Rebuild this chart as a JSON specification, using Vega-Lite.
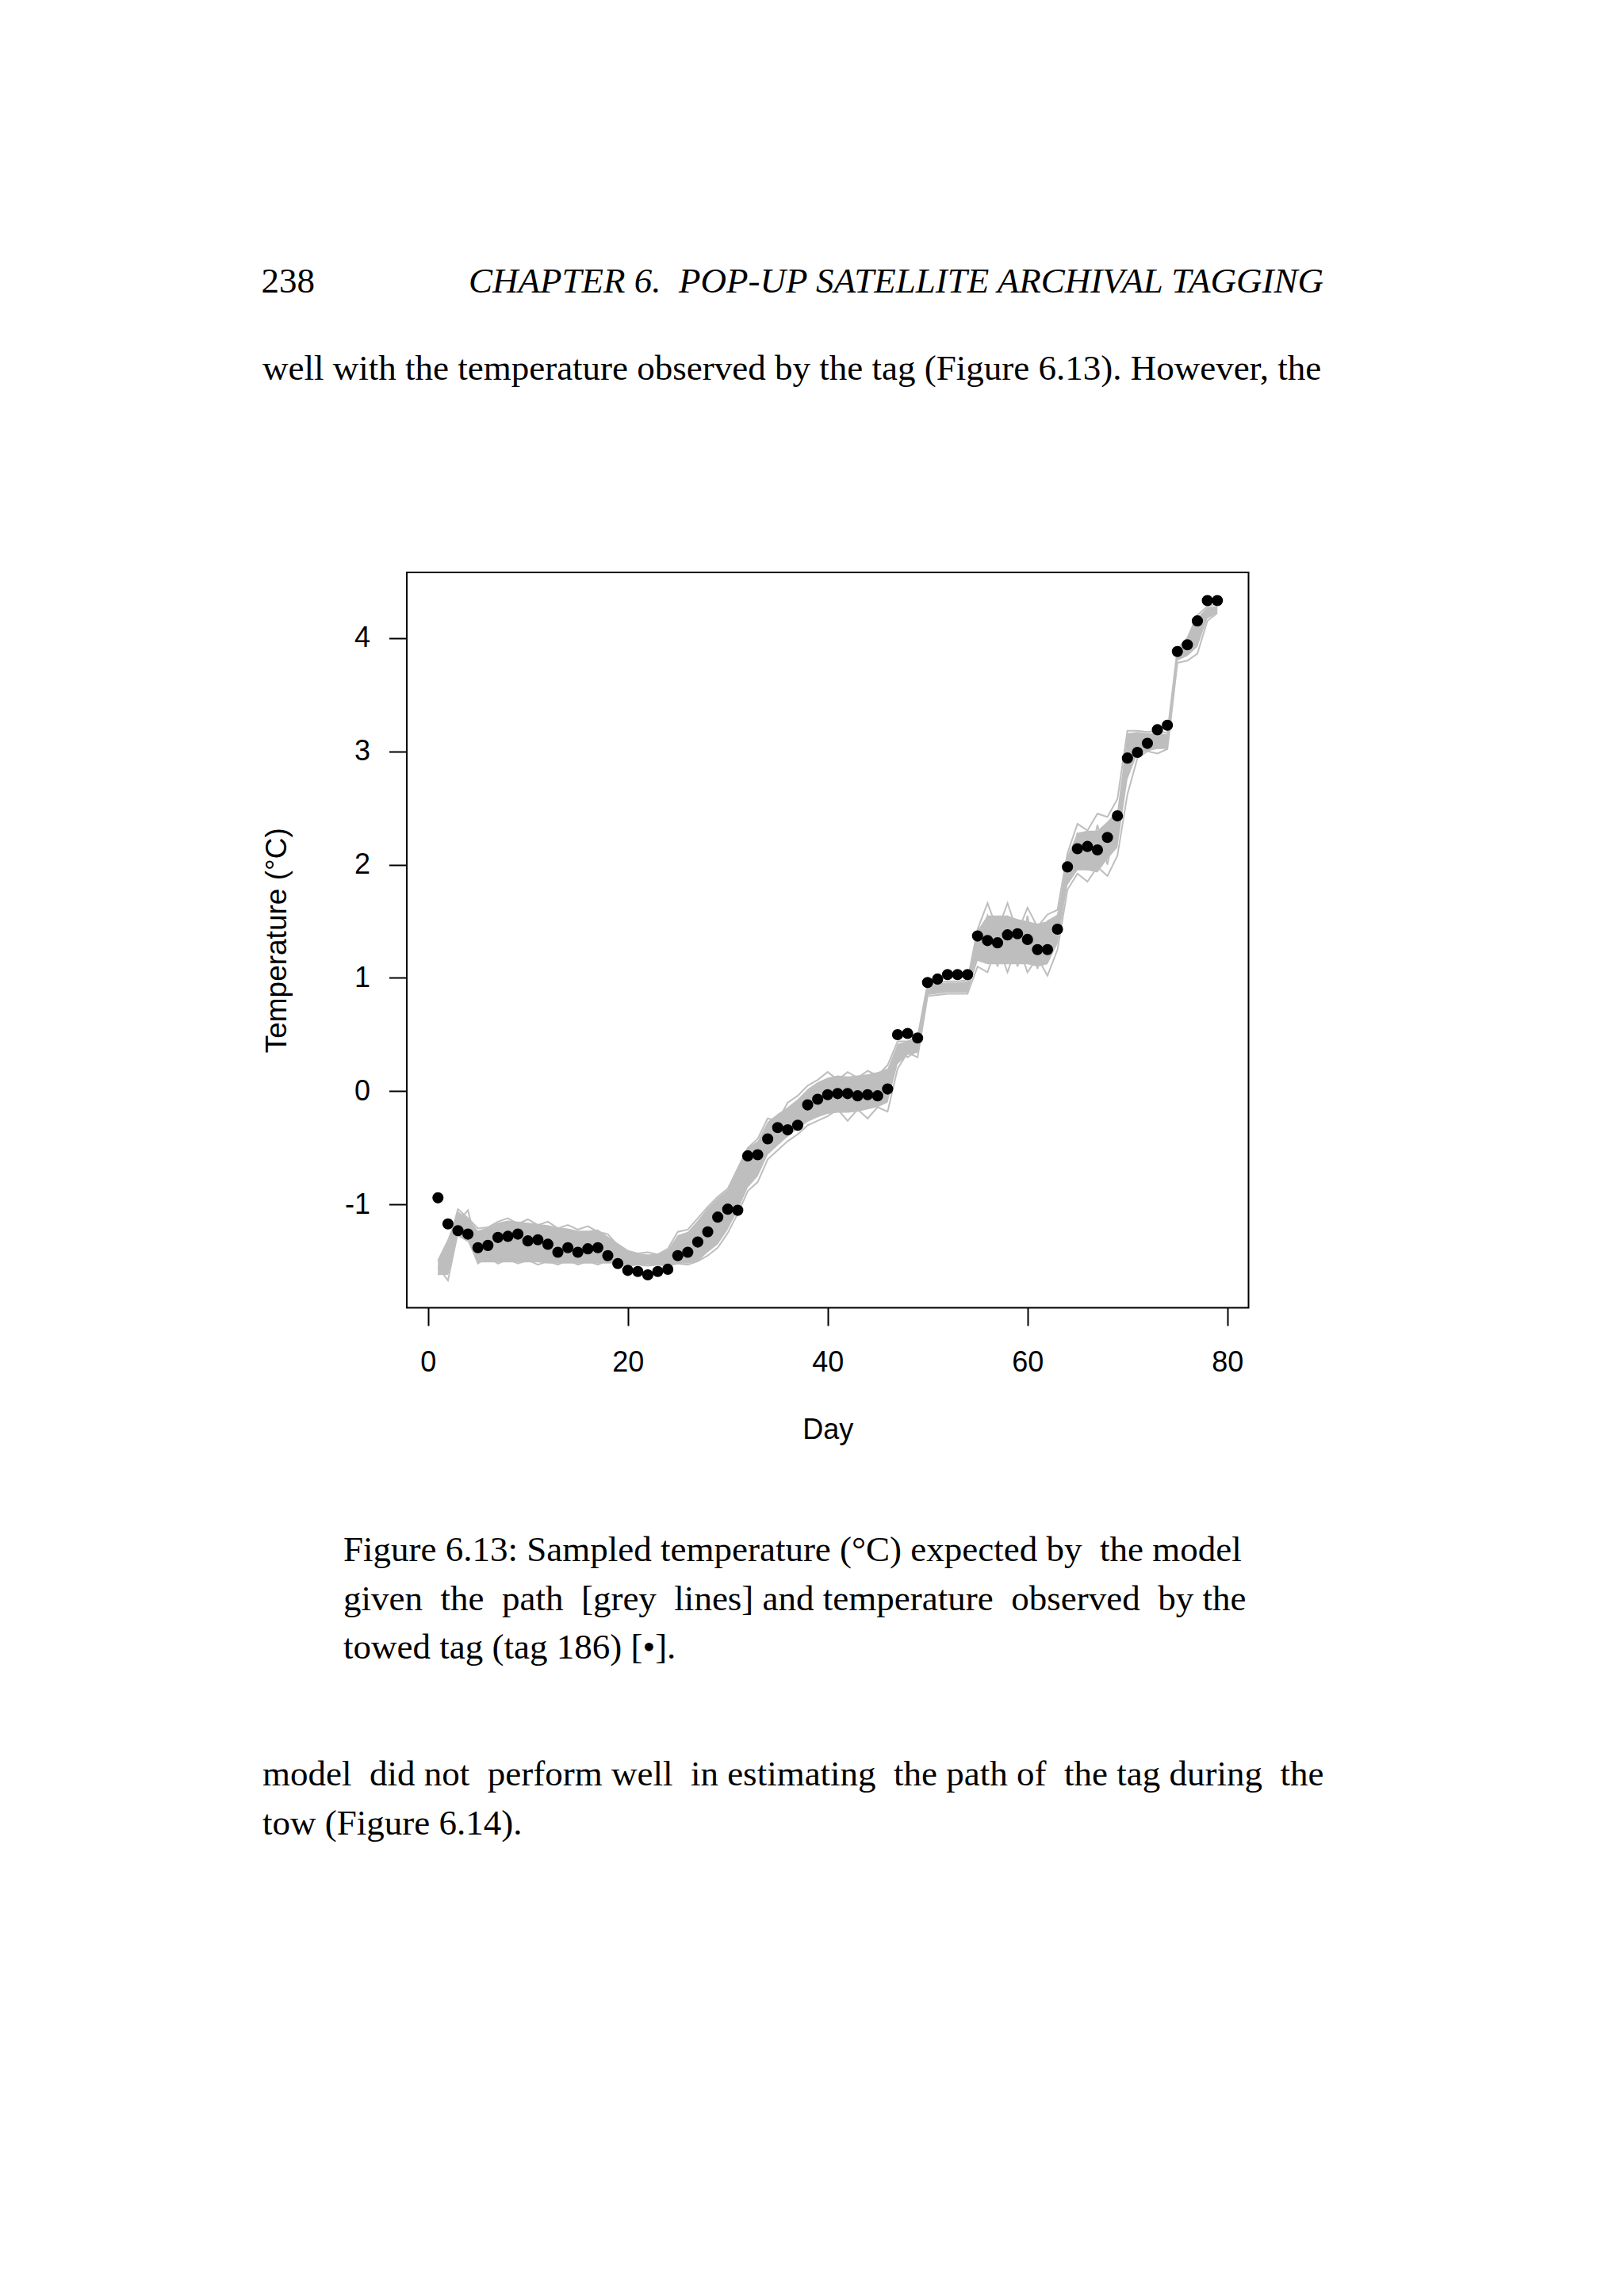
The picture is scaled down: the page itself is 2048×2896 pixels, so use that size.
{
"$schema": "https://vega.github.io/schema/vega-lite/v6.json",
"background": "white",
"padding": {"left": 329, "top": 333, "right": 0, "bottom": 0},
"config": {
  "view": {"stroke": null},
  "concat": {"spacing": 0},
  "title": {"font": "Liberation Serif", "fontSize": 45, "fontWeight": "normal", "color": "black", "baseline": "alphabetic", "offset": 0, "lineHeight": 61.5}
},
"title": {"text": "238", "anchor": "start", "frame": "bounds", "offset": -45, "fontStyle": "normal"},
"spacing": 0,
"vconcat": [
  {"width": 1156, "height": 61, "data": {"values": []}, "mark": "point", "encoding": {}, "title": {"text": "CHAPTER 6.\u00a0 POP-UP SATELLITE ARCHIVAL TAGGING", "anchor": "end", "fontStyle": "italic", "frame": "group"}},
  {"width": 1000, "height": 229, "data": {"values": []}, "mark": "point", "encoding": {}, "title": {"text": "well with the temperature observed by the tag (Figure 6.13). However, the", "anchor": "start", "frame": "group", "dx": -182}},
  {
    "width": 1061.5, "height": 927.5,
    "view": {"stroke": "black", "strokeWidth": 2},
    "title": {"text": ["Figure 6.13: Sampled temperature (°C) expected by\u00a0 the model", "given\u00a0 the\u00a0 path\u00a0 [grey\u00a0 lines] and temperature\u00a0 observed\u00a0 by the", "towed tag (tag 186) [•]."], "orient": "bottom", "anchor": "start", "frame": "group", "dx": -80, "offset": 112},
    "data": {"values": [
{"day":1,"obs":-0.94,"lo":-1.62,"hi":-1.48,"a":-1.50,"b":-1.55,"c":-1.62,"d":-1.58},
{"day":2,"obs":-1.17,"lo":-1.62,"hi":-1.30,"a":-1.36,"b":-1.67,"c":-1.52,"d":-1.60},
{"day":3,"obs":-1.23,"lo":-1.28,"hi":-1.06,"a":-1.04,"b":-1.24,"c":-1.15,"d":-1.08},
{"day":4,"obs":-1.26,"lo":-1.33,"hi":-1.12,"a":-1.12,"b":-1.30,"c":-1.05,"d":-1.20},
{"day":5,"obs":-1.38,"lo":-1.51,"hi":-1.23,"a":-1.21,"b":-1.52,"c":-1.40,"d":-1.46},
{"day":6,"obs":-1.36,"lo":-1.51,"hi":-1.20,"a":-1.20,"b":-1.46,"c":-1.30,"d":-1.38},
{"day":7,"obs":-1.29,"lo":-1.51,"hi":-1.16,"a":-1.15,"b":-1.52,"c":-1.35,"d":-1.26},
{"day":8,"obs":-1.28,"lo":-1.51,"hi":-1.14,"a":-1.12,"b":-1.48,"c":-1.25,"d":-1.32},
{"day":9,"obs":-1.26,"lo":-1.51,"hi":-1.15,"a":-1.17,"b":-1.52,"c":-1.32,"d":-1.22},
{"day":10,"obs":-1.32,"lo":-1.51,"hi":-1.16,"a":-1.13,"b":-1.49,"c":-1.28,"d":-1.35},
{"day":11,"obs":-1.31,"lo":-1.51,"hi":-1.17,"a":-1.18,"b":-1.53,"c":-1.35,"d":-1.25},
{"day":12,"obs":-1.35,"lo":-1.52,"hi":-1.18,"a":-1.15,"b":-1.50,"c":-1.30,"d":-1.38},
{"day":13,"obs":-1.42,"lo":-1.52,"hi":-1.20,"a":-1.21,"b":-1.53,"c":-1.38,"d":-1.28},
{"day":14,"obs":-1.38,"lo":-1.52,"hi":-1.21,"a":-1.18,"b":-1.49,"c":-1.33,"d":-1.42},
{"day":15,"obs":-1.42,"lo":-1.52,"hi":-1.23,"a":-1.22,"b":-1.53,"c":-1.38,"d":-1.30},
{"day":16,"obs":-1.39,"lo":-1.52,"hi":-1.23,"a":-1.19,"b":-1.50,"c":-1.35,"d":-1.42},
{"day":17,"obs":-1.38,"lo":-1.52,"hi":-1.22,"a":-1.24,"b":-1.53,"c":-1.40,"d":-1.30},
{"day":18,"obs":-1.45,"lo":-1.52,"hi":-1.28,"a":-1.26,"b":-1.49,"c":-1.36,"d":-1.45},
{"day":19,"obs":-1.52,"lo":-1.52,"hi":-1.34,"a":-1.36,"b":-1.53,"c":-1.44,"d":-1.38},
{"day":20,"obs":-1.58,"lo":-1.53,"hi":-1.40,"a":-1.41,"b":-1.54,"c":-1.47,"d":-1.50},
{"day":21,"obs":-1.59,"lo":-1.53,"hi":-1.43,"a":-1.43,"b":-1.53,"c":-1.49,"d":-1.46},
{"day":22,"obs":-1.62,"lo":-1.53,"hi":-1.44,"a":-1.42,"b":-1.54,"c":-1.48,"d":-1.51},
{"day":23,"obs":-1.59,"lo":-1.53,"hi":-1.43,"a":-1.44,"b":-1.53,"c":-1.49,"d":-1.46},
{"day":24,"obs":-1.57,"lo":-1.53,"hi":-1.40,"a":-1.39,"b":-1.54,"c":-1.47,"d":-1.50},
{"day":25,"obs":-1.45,"lo":-1.52,"hi":-1.27,"a":-1.24,"b":-1.52,"c":-1.38,"d":-1.45},
{"day":26,"obs":-1.42,"lo":-1.52,"hi":-1.24,"a":-1.22,"b":-1.53,"c":-1.35,"d":-1.28},
{"day":27,"obs":-1.33,"lo":-1.50,"hi":-1.14,"a":-1.12,"b":-1.50,"c":-1.28,"d":-1.38},
{"day":28,"obs":-1.24,"lo":-1.42,"hi":-1.03,"a":-1.02,"b":-1.45,"c":-1.18,"d":-1.25},
{"day":29,"obs":-1.11,"lo":-1.35,"hi":-0.94,"a":-0.93,"b":-1.38,"c":-1.08,"d":-1.20},
{"day":30,"obs":-1.04,"lo":-1.22,"hi":-0.87,"a":-0.86,"b":-1.25,"c":-0.98,"d":-1.02},
{"day":31,"obs":-1.05,"lo":-1.05,"hi":-0.68,"a":-0.68,"b":-1.08,"c":-0.88,"d":-0.95},
{"day":32,"obs":-0.57,"lo":-0.85,"hi":-0.50,"a":-0.50,"b":-0.88,"c":-0.68,"d":-0.80},
{"day":33,"obs":-0.56,"lo":-0.75,"hi":-0.44,"a":-0.42,"b":-0.80,"c":-0.55,"d":-0.62},
{"day":34,"obs":-0.42,"lo":-0.56,"hi":-0.27,"a":-0.24,"b":-0.60,"c":-0.42,"d":-0.50},
{"day":35,"obs":-0.32,"lo":-0.48,"hi":-0.20,"a":-0.26,"b":-0.52,"c":-0.36,"d":-0.30},
{"day":36,"obs":-0.34,"lo":-0.40,"hi":-0.14,"a":-0.10,"b":-0.44,"c":-0.28,"d":-0.35},
{"day":37,"obs":-0.30,"lo":-0.33,"hi":-0.07,"a":-0.04,"b":-0.38,"c":-0.20,"d":-0.15},
{"day":38,"obs":-0.12,"lo":-0.27,"hi":0.02,"a":0.05,"b":-0.30,"c":-0.10,"d":-0.20},
{"day":39,"obs":-0.07,"lo":-0.23,"hi":0.08,"a":0.10,"b":-0.26,"c":-0.06,"d":0.02},
{"day":40,"obs":-0.03,"lo":-0.20,"hi":0.12,"a":0.17,"b":-0.22,"c":0.02,"d":-0.12},
{"day":41,"obs":-0.02,"lo":-0.19,"hi":0.14,"a":0.10,"b":-0.16,"c":-0.04,"d":0.08},
{"day":42,"obs":-0.02,"lo":-0.19,"hi":0.13,"a":0.17,"b":-0.26,"c":0.04,"d":-0.10},
{"day":43,"obs":-0.04,"lo":-0.18,"hi":0.14,"a":0.12,"b":-0.16,"c":-0.02,"d":0.10},
{"day":44,"obs":-0.03,"lo":-0.16,"hi":0.15,"a":0.18,"b":-0.24,"c":0.02,"d":-0.08},
{"day":45,"obs":-0.04,"lo":-0.14,"hi":0.17,"a":0.14,"b":-0.14,"c":0.06,"d":0.12},
{"day":46,"obs":0.02,"lo":-0.10,"hi":0.20,"a":0.23,"b":-0.18,"c":0.04,"d":-0.05},
{"day":47,"obs":0.50,"lo":0.24,"hi":0.42,"a":0.44,"b":0.20,"c":0.30,"d":0.38},
{"day":48,"obs":0.51,"lo":0.32,"hi":0.44,"a":0.44,"b":0.34,"c":0.40,"d":0.30},
{"day":49,"obs":0.47,"lo":0.34,"hi":0.46,"a":0.48,"b":0.30,"c":0.42,"d":0.36},
{"day":50,"obs":0.96,"lo":0.85,"hi":0.94,"a":0.95,"b":0.84,"c":0.90,"d":0.88},
{"day":51,"obs":0.99,"lo":0.86,"hi":0.95,"a":0.96,"b":0.85,"c":0.92,"d":0.94},
{"day":52,"obs":1.03,"lo":0.87,"hi":0.96,"a":0.97,"b":0.86,"c":0.92,"d":0.90},
{"day":53,"obs":1.03,"lo":0.87,"hi":0.96,"a":0.97,"b":0.86,"c":0.93,"d":0.95},
{"day":54,"obs":1.03,"lo":0.87,"hi":0.97,"a":0.98,"b":0.86,"c":0.94,"d":0.90},
{"day":55,"obs":1.37,"lo":1.15,"hi":1.42,"a":1.43,"b":1.10,"c":1.30,"d":1.20},
{"day":56,"obs":1.33,"lo":1.12,"hi":1.55,"a":1.66,"b":1.05,"c":1.55,"d":1.45},
{"day":57,"obs":1.31,"lo":1.12,"hi":1.55,"a":1.42,"b":1.30,"c":1.20,"d":1.10},
{"day":58,"obs":1.38,"lo":1.12,"hi":1.55,"a":1.66,"b":1.05,"c":1.55,"d":1.50},
{"day":59,"obs":1.39,"lo":1.12,"hi":1.52,"a":1.40,"b":1.30,"c":1.18,"d":1.10},
{"day":60,"obs":1.34,"lo":1.12,"hi":1.50,"a":1.62,"b":1.05,"c":1.45,"d":1.55},
{"day":61,"obs":1.25,"lo":1.10,"hi":1.48,"a":1.45,"b":1.18,"c":1.15,"d":1.08},
{"day":62,"obs":1.25,"lo":1.12,"hi":1.50,"a":1.56,"b":1.02,"c":1.40,"d":1.50},
{"day":63,"obs":1.43,"lo":1.30,"hi":1.56,"a":1.60,"b":1.25,"c":1.40,"d":1.55},
{"day":64,"obs":1.98,"lo":1.82,"hi":2.08,"a":2.10,"b":1.78,"c":1.95,"d":1.88},
{"day":65,"obs":2.14,"lo":1.95,"hi":2.28,"a":2.36,"b":1.92,"c":2.20,"d":2.28},
{"day":66,"obs":2.16,"lo":1.95,"hi":2.30,"a":2.30,"b":1.85,"c":2.05,"d":1.95},
{"day":67,"obs":2.13,"lo":1.93,"hi":2.30,"a":2.45,"b":1.98,"c":2.20,"d":2.35},
{"day":68,"obs":2.24,"lo":2.05,"hi":2.38,"a":2.42,"b":1.90,"c":2.12,"d":2.00},
{"day":69,"obs":2.43,"lo":2.15,"hi":2.48,"a":2.58,"b":2.08,"c":2.30,"d":2.45},
{"day":70,"obs":2.94,"lo":2.75,"hi":3.16,"a":3.18,"b":2.62,"c":2.95,"d":2.80},
{"day":71,"obs":2.99,"lo":2.98,"hi":3.17,"a":3.18,"b":2.94,"c":3.10,"d":3.04},
{"day":72,"obs":3.07,"lo":3.00,"hi":3.16,"a":3.17,"b":3.00,"c":3.05,"d":3.14},
{"day":73,"obs":3.19,"lo":3.02,"hi":3.16,"a":3.18,"b":2.98,"c":3.12,"d":3.04},
{"day":74,"obs":3.23,"lo":3.02,"hi":3.15,"a":3.16,"b":3.02,"c":3.08,"d":3.12},
{"day":75,"obs":3.88,"lo":3.80,"hi":3.88,"a":3.90,"b":3.78,"c":3.84,"d":3.82},
{"day":76,"obs":3.94,"lo":3.84,"hi":4.00,"a":4.00,"b":3.80,"c":3.90,"d":3.96},
{"day":77,"obs":4.15,"lo":3.92,"hi":4.18,"a":4.20,"b":3.86,"c":4.10,"d":4.00},
{"day":78,"obs":4.33,"lo":4.17,"hi":4.27,"a":4.28,"b":4.15,"c":4.22,"d":4.25},
{"day":79,"obs":4.33,"lo":4.22,"hi":4.28,"a":4.30,"b":4.22,"c":4.26,"d":4.24}
    ]},
    "encoding": {
      "x": {"field": "day", "type": "quantitative",
        "scale": {"domain": [-2.12, 82.12], "nice": false, "zero": false},
        "axis": {"title": "Day", "values": [0, 20, 40, 60, 80], "grid": false, "domain": false,
          "tickSize": 22.5, "tickWidth": 2, "tickColor": "black",
          "labelFont": "Liberation Sans", "labelFontSize": 36, "labelColor": "black", "labelPadding": 29,
          "labelFlush": false, "labelOverlap": false, "labelExpr": "'' + datum.value",
          "titleFont": "Liberation Sans", "titleFontSize": 36, "titleFontWeight": "normal", "titleColor": "black", "titlePadding": 50}}
    },
    "layer": [
      {"mark": {"type": "area", "color": "#bebebe", "opacity": 1},
       "encoding": {
         "y": {"field": "lo", "type": "quantitative",
           "scale": {"domain": [-1.91, 4.578], "nice": false, "zero": false},
           "axis": {"title": "Temperature (°C)", "values": [-1, 0, 1, 2, 3, 4], "grid": false, "domain": false,
             "tickSize": 22.5, "tickWidth": 2, "tickColor": "black",
             "labelFont": "Liberation Sans", "labelFontSize": 36, "labelColor": "black", "labelPadding": 24, "labelAngle": 0,
             "labelFlush": false, "labelOverlap": false, "labelExpr": "'' + datum.value",
             "titleFont": "Liberation Sans", "titleFontSize": 37, "titleFontWeight": "normal", "titleColor": "black", "titlePadding": 66}},
         "y2": {"field": "hi"}
       }},
      {"transform": [{"fold": ["a", "b", "c", "d"], "as": ["sim", "t"]}],
       "mark": {"type": "line", "color": "#bebebe", "strokeWidth": 2},
       "encoding": {
         "y": {"field": "t", "type": "quantitative"},
         "detail": {"field": "sim", "type": "nominal"}
       }},
      {"mark": {"type": "circle", "color": "black", "size": 200, "opacity": 1},
       "encoding": {
         "y": {"field": "obs", "type": "quantitative"}
       }}
    ]
  },
  {"width": 1000, "height": 110, "data": {"values": []}, "mark": "point", "encoding": {}, "title": {"text": ["model\u00a0 did not\u00a0 perform well\u00a0 in estimating\u00a0 the path of\u00a0 the tag during\u00a0 the", "tow (Figure 6.14)."], "anchor": "start", "orient": "bottom", "frame": "group", "dx": -182}}
]
}
